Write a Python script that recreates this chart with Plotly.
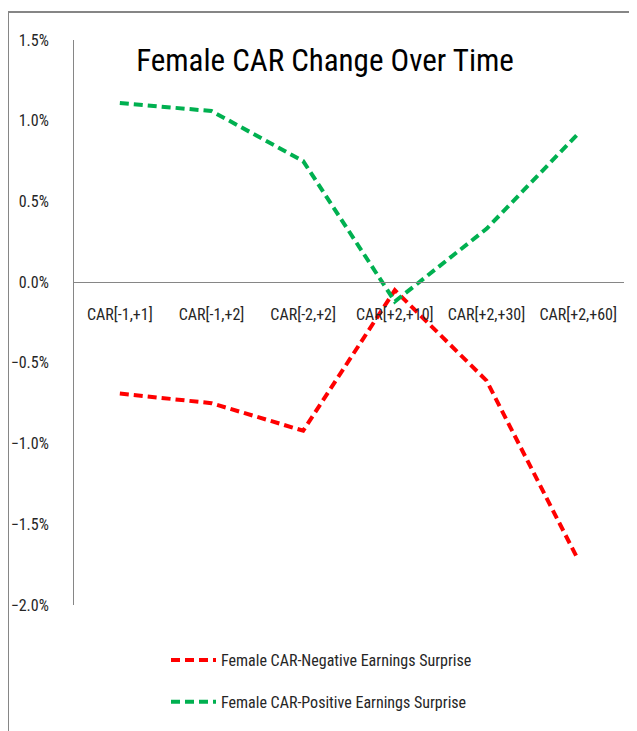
import plotly.graph_objects as go

categories = ["CAR[-1,+1]", "CAR[-1,+2]", "CAR[-2,+2]", "CAR[+2,+10]", "CAR[+2,+30]", "CAR[+2,+60]"]
negative = [-0.0069, -0.0075, -0.0092, -0.0005, -0.0061, -0.0172]
positive = [0.0111, 0.0106, 0.0075, -0.0012, 0.0033, 0.0092]
y_ticks = [0.015, 0.01, 0.005, 0.0, -0.005, -0.01, -0.015, -0.02]

FONT = "Liberation Sans Narrow, Roboto Condensed, Arial Narrow, Noto Sans, sans-serif"

fig = go.Figure()
fig.add_trace(go.Scatter(x=categories, y=negative, mode="lines",
                         name="Female CAR-Negative Earnings Surprise",
                         line=dict(color="#FF0000", width=4, dash="9px,5px"),
                         legendgroup="a"))
fig.add_trace(go.Scatter(x=categories, y=positive, mode="lines",
                         name="Female CAR-Positive Earnings Surprise",
                         line=dict(color="#00B050", width=4, dash="9px,5px"),
                         legendgroup="b"))

OFF = 8  # page body margin
W, H = 637 - OFF, 731 - OFF
L, R, T, B = 74, 624, 40, 605
pw, ph = R - L, B - T
def px(x):
    return (x - L) / pw
def py(y):
    return (B - y) / ph

fig.update_layout(
    width=W, height=H,
    margin=dict(l=L - OFF, r=W - (R - OFF), t=T - OFF, b=H - (B - OFF), autoexpand=False),
    paper_bgcolor="white", plot_bgcolor="white",
    font=dict(family=FONT, size=16, color="#262626"),
    title=dict(text="Female CAR Change Over Time", x=px(325), xref="paper", xanchor="center",
               y=py(60), yref="paper", yanchor="middle",
               font=dict(family=FONT, size=31, color="#000000")),
    xaxis=dict(type="category", anchor="free", position=2 / 3.5,
               showline=True, linecolor="#868686", linewidth=1,
               showgrid=False, zeroline=False, ticks="", automargin=False,
               ticklabelstandoff=18,
               tickfont=dict(family=FONT, size=16, color="#262626"),
               range=[-0.5, 5.5]),
    yaxis=dict(range=[-0.02, 0.015], tickvals=y_ticks, tickformat=".1%",
               showline=True, linecolor="#868686", linewidth=1,
               showgrid=False, zeroline=False, ticks="", automargin=False,
               ticklabelstandoff=21,
               tickfont=dict(family=FONT, size=16, color="#262626")),
    showlegend=True,
    legend=dict(orientation="v", x=px(166), y=py(643), xanchor="left", yanchor="top",
                tracegroupgap=18, font=dict(family=FONT, size=16, color="#262626"),
                bgcolor="rgba(0,0,0,0)", itemwidth=45),
    shapes=[
        dict(type="line", xref="paper", yref="paper", x0=px(8), x1=px(8), y0=py(12), y1=py(760),
             line=dict(color="#868686", width=2)),
        dict(type="line", xref="paper", yref="paper", x0=px(8), x1=px(660), y0=py(12), y1=py(12),
             line=dict(color="#868686", width=2)),
    ],
)

fig.write_html("out.html")
